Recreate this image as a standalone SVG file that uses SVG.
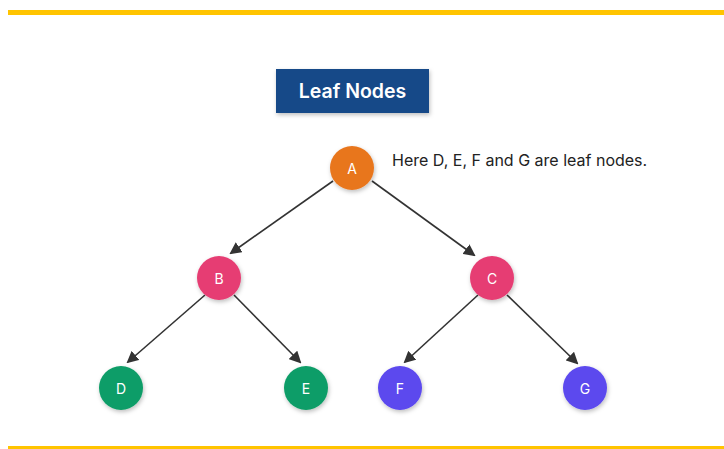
<svg xmlns="http://www.w3.org/2000/svg" width="724" height="449" viewBox="0 0 724 449">
<style>
.lbl{font-family:Inter,"Liberation Sans",sans-serif;font-size:14px;fill:#fff;text-anchor:middle;dominant-baseline:central}
.edge{stroke:#333;stroke-width:1.6;fill:none;marker-end:url(#arr)}
</style>
<defs>
<marker id="arr" markerWidth="12" markerHeight="12" refX="10" refY="6" orient="auto" markerUnits="userSpaceOnUse" viewBox="0 0 12 12">
<path d="M0,0 L12,6 L0,12 z" fill="#333"/>
</marker>
<filter id="sh" x="-30%" y="-30%" width="160%" height="160%">
<feDropShadow dx="1" dy="2" stdDeviation="2" flood-color="#000" flood-opacity="0.25"/>
</filter>
</defs>
<rect x="0" y="0" width="724" height="449" fill="#fff"/>
<rect x="8" y="10" width="716" height="5" fill="#FFC400"/>
<rect x="8" y="446" width="716" height="3" fill="#FFC400"/>
<g id="title">
<rect x="276" y="69" width="153" height="44" fill="#154A88" filter="url(#sh)"/>
<text x="352.5" y="91" font-family="Inter,'Liberation Sans',sans-serif" font-size="19.5" font-weight="600" fill="#fff" text-anchor="middle" dominant-baseline="central">Leaf Nodes</text>
</g>
<g id="note">
<text x="392" y="166" font-family="Inter,'Liberation Sans',sans-serif" font-size="16" fill="#222">Here D, E, F and G are leaf nodes.</text>
</g>
<g id="edges">
<line class="edge" x1="333" y1="181" x2="231" y2="253"/>
<line class="edge" x1="372" y1="181" x2="474" y2="255"/>
<line class="edge" x1="205" y1="295" x2="128" y2="362"/>
<line class="edge" x1="234" y1="295" x2="300" y2="362"/>
<line class="edge" x1="478" y1="295" x2="405" y2="362"/>
<line class="edge" x1="507" y1="295" x2="577" y2="363"/>
</g>
<g id="A"><circle cx="352" cy="168" r="22" fill="#E8761E" filter="url(#sh)"/><text class="lbl" x="352" y="168">A</text></g>
<g id="B"><circle cx="219" cy="278" r="22" fill="#E63E73" filter="url(#sh)"/><text class="lbl" x="219" y="278">B</text></g>
<g id="C"><circle cx="492" cy="278" r="22" fill="#E63E73" filter="url(#sh)"/><text class="lbl" x="492" y="278">C</text></g>
<g id="D"><circle cx="121" cy="388" r="22" fill="#0F9D67" filter="url(#sh)"/><text class="lbl" x="121" y="388">D</text></g>
<g id="E"><circle cx="306" cy="388" r="22" fill="#0F9D67" filter="url(#sh)"/><text class="lbl" x="306" y="388">E</text></g>
<g id="F"><circle cx="400" cy="388" r="22" fill="#5B48EE" filter="url(#sh)"/><text class="lbl" x="400" y="388">F</text></g>
<g id="G"><circle cx="585" cy="388" r="22" fill="#5B48EE" filter="url(#sh)"/><text class="lbl" x="585" y="388">G</text></g>
</svg>
